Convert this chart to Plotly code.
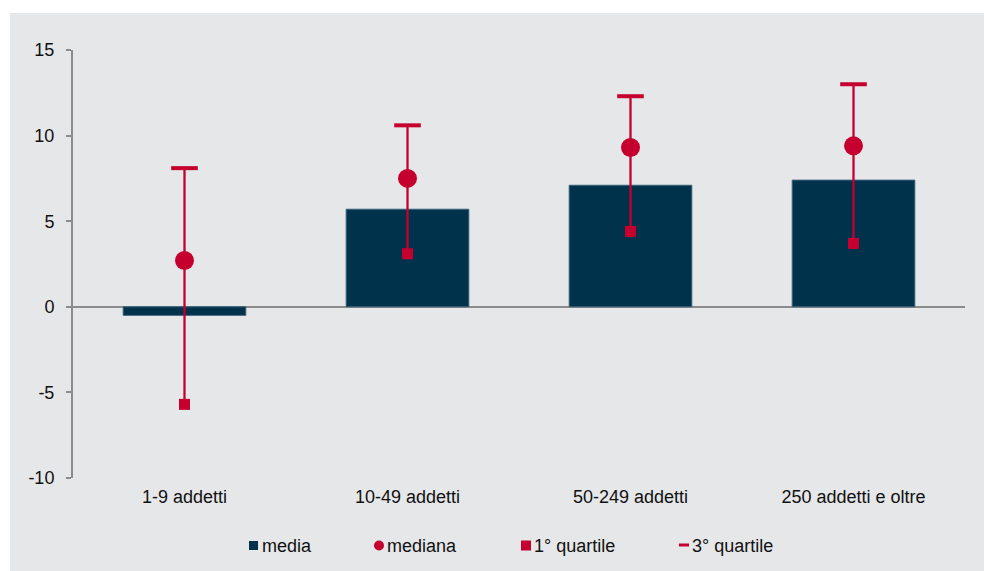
import plotly.graph_objects as go

categories = ["1-9 addetti", "10-49 addetti", "50-249 addetti", "250 addetti e oltre"]
media = [-0.5, 5.7, 7.1, 7.4]
mediana = [2.7, 7.5, 9.3, 9.4]
q1 = [-5.7, 3.1, 4.4, 3.7]
q3 = [8.1, 10.6, 12.3, 13.0]
y_ticks = [-10, -5, 0, 5, 10, 15]
y_tick_text = ["-10", "-5", "0", "5", "10", "15"]
legend_labels = ["media", "mediana", "1° quartile", "3° quartile"]

NAVY = "#00324b"
RED = "#c5002e"
BG = "#e6e7e9"
AXIS = "#8c8c8c"
TXT = "#111111"
FONT = "Liberation Sans, Arial, sans-serif"

W, H = 1000, 580   # a little larger than the window; the overflow is hidden
PLOT_L, PLOT_R, PLOT_T, PLOT_B = 73, 965, 50, 478  # window pixels
L, R, T, B = PLOT_L, W - PLOT_R, PLOT_T, H - PLOT_B
PW, PH = W - L - R, H - T - B


def px(x):
    return (x - L) / PW


def py(y):
    return (H - B - y) / PH


fig = go.Figure()

fig.add_trace(go.Bar(
    x=categories, y=media, width=0.55,
    marker=dict(color=NAVY, line=dict(color="#3b637d", width=1)),
    showlegend=False, hoverinfo="skip",
))

lx, ly = [], []
for c, a, b in zip(categories, q1, q3):
    lx += [c, c, None]
    ly += [a, b, None]
fig.add_trace(go.Scatter(
    x=lx, y=ly, mode="lines", line=dict(color=RED, width=2.3),
    showlegend=False, hoverinfo="skip",
))
fig.add_trace(go.Scatter(
    x=categories, y=q3, mode="markers",
    marker=dict(symbol="line-ew", size=19, color=RED, line=dict(color=RED, width=4)),
    showlegend=False,
))
fig.add_trace(go.Scatter(
    x=categories, y=mediana, mode="markers",
    marker=dict(symbol="circle", size=19, color=RED, line=dict(width=0)),
    showlegend=False,
))
fig.add_trace(go.Scatter(
    x=categories, y=q1, mode="markers",
    marker=dict(symbol="square", size=11, color=RED, line=dict(width=0)),
    showlegend=False,
))

shapes = [
    # white strips at top and left (paper is gray)
    dict(type="rect", xref="paper", yref="paper",
         x0=px(-4), x1=px(W + 4), y0=py(13), y1=py(-4),
         fillcolor="white", line=dict(width=0), layer="below"),
    dict(type="rect", xref="paper", yref="paper",
         x0=px(-4), x1=px(10), y0=py(H + 4), y1=py(-4),
         fillcolor="white", line=dict(width=0), layer="below"),
    # legend symbols
    dict(type="rect", xref="paper", yref="paper",
         x0=px(249), x1=px(258), y0=py(550), y1=py(541),
         fillcolor=NAVY, line=dict(width=0)),
    dict(type="circle", xref="paper", yref="paper",
         x0=px(374), x1=px(384), y0=py(550.5), y1=py(540.5),
         fillcolor=RED, line=dict(width=0)),
    dict(type="rect", xref="paper", yref="paper",
         x0=px(521), x1=px(531), y0=py(550.5), y1=py(540.5),
         fillcolor=RED, line=dict(width=0)),
    dict(type="rect", xref="paper", yref="paper",
         x0=px(679), x1=px(689), y0=py(546.5), y1=py(543.5),
         fillcolor=RED, line=dict(width=0)),
]

annotations = []
for lab, x in zip(legend_labels, [261, 386, 533, 691]):
    annotations.append(dict(
        text=lab, xref="paper", yref="paper", x=px(x), y=py(545.5),
        xanchor="left", yanchor="middle", showarrow=False, borderpad=0,
        font=dict(family=FONT, size=18, color=TXT),
    ))

fig.update_layout(
    width=W, height=H,
    margin=dict(l=L, r=R, t=T, b=B, pad=0),
    paper_bgcolor=BG, plot_bgcolor=BG,
    font=dict(family=FONT, size=18, color=TXT),
    shapes=shapes, annotations=annotations,
    xaxis=dict(
        type="category", range=[-0.5, 3.5], showgrid=False, showline=False,
        ticks="", zeroline=False, tickfont=dict(size=18, color=TXT),
        ticklabelstandoff=6,
    ),
    yaxis=dict(
        range=[-10, 15], tickvals=y_ticks, ticktext=y_tick_text, showgrid=False,
        showline=True, linecolor=AXIS, linewidth=2,
        ticks="outside", ticklen=5, tickwidth=2, tickcolor=AXIS,
        zeroline=True, zerolinecolor=AXIS, zerolinewidth=2,
        tickfont=dict(size=18, color=TXT), ticklabelstandoff=8,
    ),
)

fig.write_html(
    "out.html",
    config={"displayModeBar": False, "staticPlot": True},
    post_script="document.body.style.margin='0';document.body.style.overflow='hidden';",
)
